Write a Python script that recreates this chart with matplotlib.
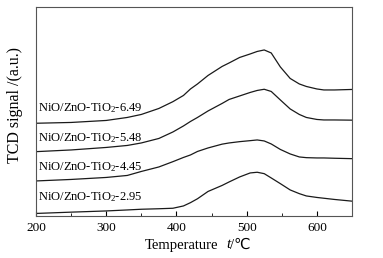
import matplotlib.pyplot as plt
from matplotlib.ticker import MultipleLocator

plt.rcParams['font.family'] = ['Liberation Serif', 'DejaVu Sans']
plt.rcParams['mathtext.fontset'] = 'custom'
plt.rcParams['mathtext.rm'] = 'Liberation Serif'
plt.rcParams['mathtext.it'] = 'Liberation Serif:italic'

# temperature points (deg C)
temps = [200, 250, 300, 330, 350, 375, 395, 410, 420, 430, 445, 465, 475,
         490, 505, 515, 525, 535, 548, 562, 575, 585, 600, 610, 625, 650]

# TCD signal (arbitrary units), one list per sample
sig_649 = [92.7, 93.5, 95.5, 98.5, 101.5, 107.5, 114.3, 120.5, 127.0, 132.0,
           140.5, 149.5, 153.0, 158.5, 162.0, 164.5, 166.0, 163.0, 149.0,
           137.5, 132.0, 129.5, 127.0, 126.0, 126.0, 126.5]
sig_548 = [64.3, 66.0, 68.5, 70.5, 73.0, 77.5, 84.0, 90.0, 94.5, 98.5,
           105.0, 112.5, 116.5, 120.0, 123.5, 125.5, 126.7, 124.5, 116.0,
           107.0, 101.5, 98.5, 96.5, 96.0, 96.0, 95.8]
sig_445 = [35.0, 36.5, 38.5, 40.5, 44.5, 49.0, 54.3, 58.5, 61.0, 64.5,
           68.0, 71.8, 73.0, 74.3, 75.3, 76.0, 75.0, 72.0, 66.5,
           62.0, 59.0, 58.3, 58.0, 58.0, 57.7, 57.3]
sig_295 = [2.5, 3.8, 5.0, 6.0, 6.7, 7.2, 7.7, 10.0, 13.3, 17.2,
           24.5, 30.5, 34.0, 39.0, 43.0, 43.7, 42.3, 38.0, 32.3,
           26.0, 22.3, 20.0, 18.5, 17.7, 16.5, 14.8]

series = [sig_649, sig_548, sig_445, sig_295]
labels = ['NiO/ZnO-TiO$_2$-6.49', 'NiO/ZnO-TiO$_2$-5.48',
          'NiO/ZnO-TiO$_2$-4.45', 'NiO/ZnO-TiO$_2$-2.95']
label_y = [108, 78, 49, 19]

fig = plt.figure(figsize=(3.83, 2.58), dpi=100)
ax = fig.add_axes([0.094, 0.163, 0.825, 0.81])

for s in series:
    ax.plot(temps, s, color='#1a1a1a', lw=0.9)

for lab, y in zip(labels, label_y):
    ax.text(203, y, lab, fontsize=9, va='center', ha='left')

ax.set_xlim(200, 650)
ax.set_ylim(0, 209)
ax.xaxis.set_major_locator(MultipleLocator(100))
ax.xaxis.set_minor_locator(MultipleLocator(50))
ax.tick_params(axis='x', which='both', direction='in', labelsize=9.5, pad=4)
ax.tick_params(axis='x', which='major', length=3.5)
ax.tick_params(axis='x', which='minor', length=2.5)
ax.set_yticks([])
for sp in ax.spines.values():
    sp.set_color('#555555')
    sp.set_linewidth(0.8)

ax.set_ylabel('TCD signal /(a.u.)', fontsize=11.5)
ax.yaxis.set_label_coords(-0.042, 0.53)

# x label: upright word, italic symbol, unit
fig.text(145 / 383, 1 - 245 / 258, 'Temperature', fontsize=10.5,
         ha='left', va='center')
fig.text(226 / 383, 1 - 245 / 258, 't', fontsize=11, style='italic',
         ha='left', va='center')
fig.text(230 / 383, 1 - 245 / 258, '/\u2103', fontsize=10.5,
         ha='left', va='center')

fig.savefig('out.png', dpi=100)
